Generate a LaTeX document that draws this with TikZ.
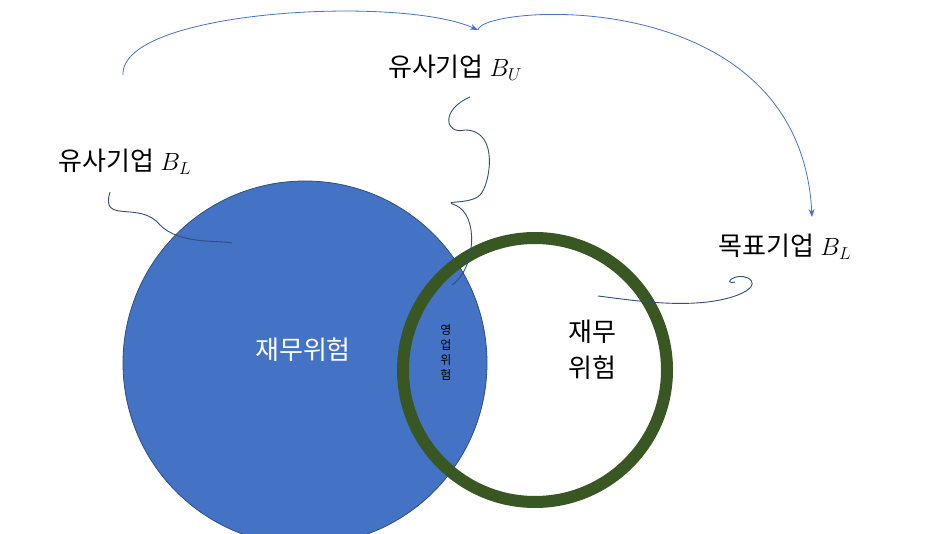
\documentclass[tikz,border=0pt]{standalone}
\usepackage{fontspec}
\newfontfamily\kr{Noto Sans CJK KR}
\usetikzlibrary{arrows.meta}
\definecolor{blu}{HTML}{4472C4}
\definecolor{grn}{HTML}{385723}
\definecolor{ln}{HTML}{2F4F7F}
\tikzset{lbl/.style={font=\kr\fontsize{26}{30}\selectfont,inner sep=0pt},
 conn/.style={draw=blu,line width=0.8pt,-{Stealth[length=8pt,width=6pt]}},
 sq/.style={draw=ln,line width=0.9pt}}
\begin{document}
\begin{tikzpicture}[x=1pt,y=-1pt]
\useasboundingbox (0,0) rectangle (951,534);
\fill[white] (0,0) rectangle (951,534);
\node[circle,fill=blu,draw=ln,line width=0.8pt,minimum size=364pt,inner sep=0pt] (c1) at (305,363) {};
\node[circle,draw=grn,line width=12pt,minimum size=264pt,inner sep=0pt] (c2) at (535,370) {};
\node[lbl] (bl) at (125,162) {유사기업 $B_L$};
\node[lbl] (bu) at (455,68) {유사기업 $B_U$};
\node[lbl] (tg) at (785,247) {목표기업 $B_L$};
\node[lbl,text=white] (f1) at (303,350) {재무위험};
\node[lbl,align=center,font=\kr\fontsize{26}{36}\selectfont] (f2) at (592,350) {재무\\위험};
\node[font=\kr\fontsize{12}{15}\selectfont,align=center,inner sep=0pt] (op) at (446,352) {영\\업\\위\\험};
\coordinate (a0) at (123,75);
\coordinate (a1) at (478,30);
\coordinate (a2) at (812,217);
\draw[conn] (a0) .. controls (120,10) and (400,-5) .. (a1);
\draw[conn] (a1) .. controls (480,5) and (800,-20) .. (a2);
\draw[sq] (110,192) .. controls (100,225) and (140,200) .. (160,225) .. controls (180,245) and (220,240) .. (232,243);
\draw[sq] (470,97) .. controls (440,110) and (445,135) .. (465,130) .. controls (500,130) and (490,185) .. (480,195) .. controls (470,205) and (440,200) .. (455,205) .. controls (480,215) and (475,270) .. (452,285);
\draw[sq] (598,296) .. controls (630,300) and (680,308) .. (720,300) .. controls (745,295) and (760,285) .. (748,278) .. controls (735,272) and (722,285) .. (735,282);
\end{tikzpicture}
\end{document}
